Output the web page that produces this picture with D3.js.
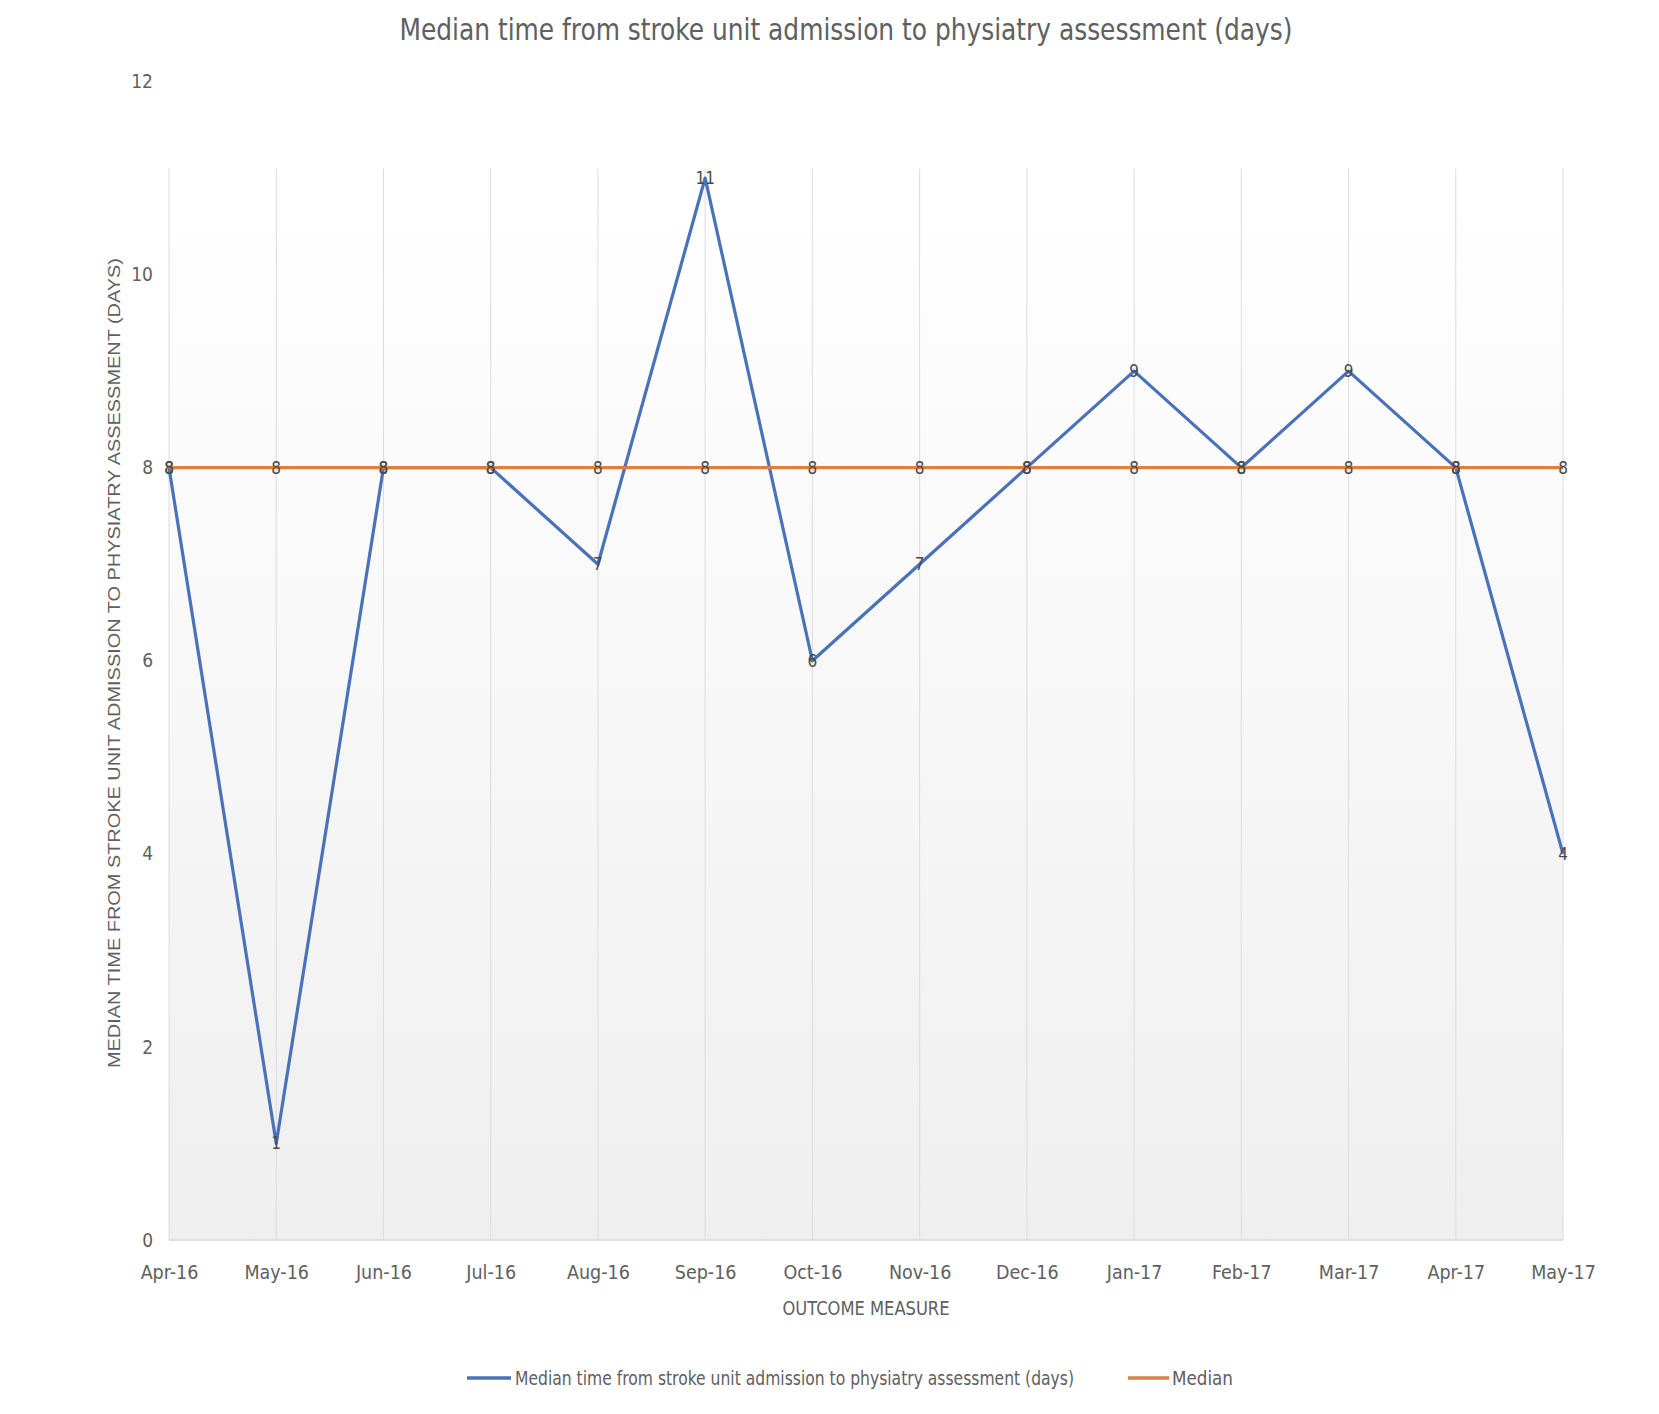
<!DOCTYPE html>
<html>
<head>
<meta charset="utf-8">
<script src="https://cdn.jsdelivr.net/npm/d3@7"></script>
<style>
  html, body { margin: 0; padding: 0; background: #ffffff; }
  svg { display: block; }
</style>
</head>
<body>
<script>
const months = ["Apr-16","May-16","Jun-16","Jul-16","Aug-16","Sep-16","Oct-16","Nov-16","Dec-16","Jan-17","Feb-17","Mar-17","Apr-17","May-17"];
const seriesValues = [8, 1, 8, 8, 7, 11, 6, 7, 8, 9, 8, 9, 8, 4];
const medianValues = [8, 8, 8, 8, 8, 8, 8, 8, 8, 8, 8, 8, 8, 8];
const yTicks = [0, 2, 4, 6, 8, 10, 12];
const seriesName = "Median time from stroke unit admission to physiatry assessment (days)";
const medianName = "Median";
const chartTitle = "Median time from stroke unit admission to physiatry assessment (days)";
const yTitle = "MEDIAN TIME FROM STROKE UNIT ADMISSION TO PHYSIATRY ASSESSMENT (DAYS)";
const xTitle = "OUTCOME MEASURE";

const W = 1659, H = 1414;
const narrow = "'Liberation Sans Narrow', 'Arial Narrow', 'DejaVu Sans Condensed', sans-serif";
const textColor = "#606060";

const svg = d3.select("body").append("svg").attr("width", W).attr("height", H);

const x = d3.scalePoint().domain(months).range([169, 1563]);
const y = d3.scaleLinear().domain([0, 12]).range([1240, 81.5]);

// background gradient
const defs = svg.append("defs");
const grad = defs.append("linearGradient").attr("id", "bg").attr("x1", 0).attr("y1", 0).attr("x2", 0).attr("y2", 1);
grad.append("stop").attr("offset", "0%").attr("stop-color", "#ffffff");
grad.append("stop").attr("offset", "10%").attr("stop-color", "#ffffff");
grad.append("stop").attr("offset", "100%").attr("stop-color", "#efefef");

svg.append("rect")
  .attr("x", x(months[0])).attr("y", y(12))
  .attr("width", x(months[months.length - 1]) - x(months[0]))
  .attr("height", y(0) - y(12))
  .attr("fill", "url(#bg)");

// vertical gridlines
svg.append("g").selectAll("line").data(months).join("line")
  .attr("x1", d => x(d)).attr("x2", d => x(d))
  .attr("y1", y(11.1)).attr("y2", y(0))
  .attr("stroke", "#dcdcdc").attr("stroke-width", 1);

// baseline
svg.append("line")
  .attr("x1", x(months[0])).attr("x2", x(months[months.length - 1]))
  .attr("y1", y(0)).attr("y2", y(0))
  .attr("stroke", "#d9d9d9").attr("stroke-width", 1.5);

// y axis
const yAxis = d3.axisLeft(y).tickValues(yTicks).tickSize(0).tickPadding(0).tickFormat(d3.format("d"));
const yg = svg.append("g").attr("transform", "translate(153,0)").call(yAxis);
yg.select(".domain").remove();
yg.selectAll("text").attr("font-family", narrow).attr("font-size", 19).attr("fill", textColor);

// x axis
const xAxis = d3.axisBottom(x).tickSize(0).tickPadding(0);
const xg = svg.append("g").attr("transform", "translate(0,1265)").call(xAxis);
xg.select(".domain").remove();
xg.selectAll("text").attr("font-family", narrow).attr("font-size", 19.5).attr("fill", textColor);

// lines
const line = d3.line().x((d, i) => x(months[i])).y(d => y(d));
svg.append("path").datum(seriesValues).attr("d", line)
  .attr("fill", "none").attr("stroke", "#4A72B8").attr("stroke-width", 3.2).attr("stroke-linejoin", "round");
svg.append("path").datum(medianValues).attr("d", line)
  .attr("fill", "none").attr("stroke", "#E07F3C").attr("stroke-width", 3.4);

// data labels
const labels = svg.append("g").attr("font-family", narrow).attr("font-size", 17).attr("fill", "#4a4a4a").attr("text-anchor", "middle");
labels.selectAll("text.s").data(seriesValues).join("text").attr("class", "s")
  .attr("x", (d, i) => x(months[i])).attr("y", d => y(d)).attr("dy", "0.35em").text(d => d);
labels.selectAll("text.m").data(medianValues).join("text").attr("class", "m")
  .attr("x", (d, i) => x(months[i])).attr("y", d => y(d)).attr("dy", "0.35em").text(d => d);

// title
svg.append("text").attr("x", 846).attr("y", 40).attr("text-anchor", "middle")
  .attr("font-family", narrow).attr("font-size", 31).attr("fill", textColor)
  .attr("textLength", 893).attr("lengthAdjust", "spacingAndGlyphs")
  .text(chartTitle);

// y title
svg.append("text").attr("transform", "translate(114,663) rotate(-90)")
  .attr("text-anchor", "middle").attr("dominant-baseline", "central")
  .attr("font-family", "'Liberation Sans', Arial, sans-serif").attr("font-size", 16).attr("fill", textColor)
  .attr("textLength", 810).attr("lengthAdjust", "spacingAndGlyphs")
  .text(yTitle);

// x title
svg.append("text").attr("x", 866).attr("y", 1308).attr("text-anchor", "middle").attr("dominant-baseline", "central")
  .attr("font-family", narrow).attr("font-size", 20).attr("fill", textColor)
  .attr("textLength", 167).attr("lengthAdjust", "spacingAndGlyphs")
  .text(xTitle);

// legend
const leg = svg.append("g");
leg.append("line").attr("x1", 467).attr("x2", 511).attr("y1", 1378).attr("y2", 1378)
  .attr("stroke", "#4A72B8").attr("stroke-width", 3.4);
leg.append("text").attr("x", 515).attr("y", 1378).attr("dominant-baseline", "central")
  .attr("font-family", narrow).attr("font-size", 20).attr("fill", textColor)
  .attr("textLength", 559).attr("lengthAdjust", "spacingAndGlyphs")
  .text(seriesName);
leg.append("line").attr("x1", 1128).attr("x2", 1169).attr("y1", 1378).attr("y2", 1378)
  .attr("stroke", "#E07F3C").attr("stroke-width", 3.4);
leg.append("text").attr("x", 1172).attr("y", 1378).attr("dominant-baseline", "central")
  .attr("font-family", narrow).attr("font-size", 20).attr("fill", textColor)
  .attr("textLength", 61).attr("lengthAdjust", "spacingAndGlyphs")
  .text(medianName);
</script>
</body>
</html>
